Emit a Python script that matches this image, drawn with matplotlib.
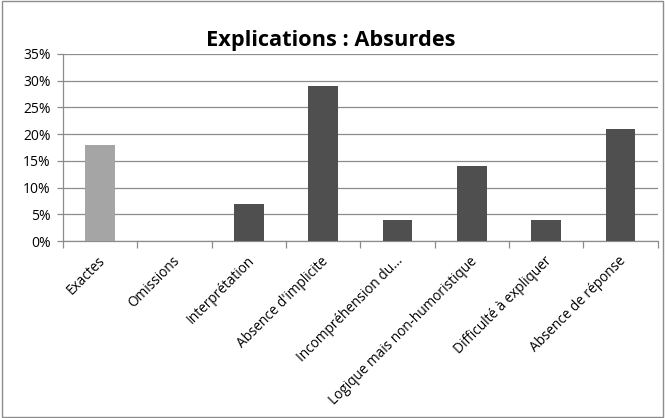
import matplotlib
matplotlib.use("Agg")
import matplotlib.pyplot as plt
from matplotlib.ticker import PercentFormatter, FixedLocator
from matplotlib.patches import Rectangle

categories = ["Exactes", "Omissions", "Interprétation", "Absence d'implicite",
              "Incompréhension du...", "Logique mais non-humoristique",
              "Difficulté à expliquer", "Absence de réponse"]
values = [18, 0, 7, 29, 4, 14, 4, 21]
colors = ["#a5a5a5"] + ["#4f4f4f"] * 7

plt.rcParams['font.family'] = ['Open Sans', 'DejaVu Sans']

fig = plt.figure(figsize=(6.65, 4.18), dpi=100)
ax = fig.add_axes([0.095, 0.423, 0.894, 0.448])

x = range(len(categories))
ax.bar(x, values, width=0.4, color=colors, zorder=3)

ax.set_ylim(0, 35)
ax.set_xlim(-0.5, len(categories) - 0.5)
ax.set_yticks(range(0, 36, 5))
ax.yaxis.set_major_formatter(PercentFormatter(decimals=0))
ax.grid(axis='y', color='#8c8c8c', linewidth=0.9, zorder=0)

ax.set_xticks([i - 0.03 for i in x])
ax.set_xticklabels(categories, rotation=45, ha='right', rotation_mode='anchor', fontsize=9.8)
ax.tick_params(axis='x', length=0, pad=9)
ax.xaxis.set_minor_locator(FixedLocator([i - 0.5 for i in range(len(categories) + 1)]))
ax.tick_params(axis='x', which='minor', length=5, color='#8c8c8c', width=0.9)
ax.tick_params(axis='y', labelsize=10, length=4, color='#8c8c8c', width=0.9, pad=5)

for s in ['top', 'right']:
    ax.spines[s].set_visible(False)
for s in ['left', 'bottom']:
    ax.spines[s].set_color('#8c8c8c')
    ax.spines[s].set_linewidth(0.9)

fig.text(0.497, 0.902, "Explications : Absurdes", ha='center', va='center',
         fontsize=15.7, fontweight='bold')

fig.patches.append(Rectangle((0.003, 0.003), 0.994, 0.994, transform=fig.transFigure,
                             fill=False, edgecolor='#8c8c8c', linewidth=1))

fig.savefig("out.png", dpi=100)
